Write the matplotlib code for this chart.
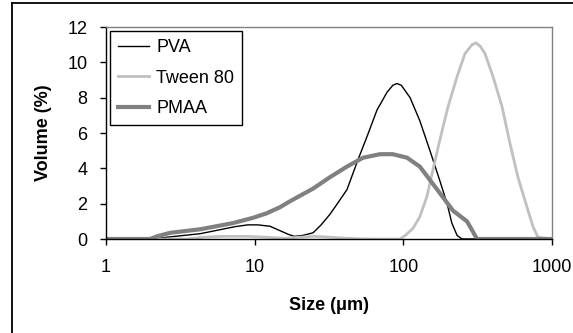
import matplotlib
matplotlib.use("Agg")
import matplotlib.pyplot as plt
from matplotlib.lines import Line2D

plt.rcParams['font.family'] = ['Liberation Sans', 'DejaVu Sans']

# Size (um) / Volume (%)
pva_x = [1, 2.0, 2.7, 4.3, 7.4, 9.0, 10.5, 12.7, 15.0, 17.0, 18.5, 21.0, 24.7, 28.0, 32.1, 36.0,
         41.8, 49.6, 57.0, 66.5, 77.6, 85.0, 90.6, 97.0, 111, 129, 151, 176, 197, 212, 230, 248, 1000]
pva_y = [0, 0, 0.12, 0.3, 0.7, 0.8, 0.8, 0.72, 0.45, 0.25, 0.15, 0.2, 0.35, 0.8, 1.4, 2.0,
         2.8, 4.5, 5.8, 7.3, 8.3, 8.7, 8.8, 8.7, 8.0, 6.7, 5.0, 3.3, 2.0, 0.9, 0.2, 0, 0]

tween_x = [1, 3.5, 4.5, 6.0, 9.0, 12.0, 16.0, 20.0, 25.0, 30.0, 38.0, 48.0, 60.0, 95, 103, 116, 129,
           144, 158, 176, 200, 230, 260, 290, 308, 330, 354, 401, 461, 522, 590, 679, 745, 805, 1000]
tween_y = [0, 0, 0.1, 0.15, 0.15, 0.1, 0.04, 0.1, 0.15, 0.12, 0.06, 0.02, 0, 0, 0.2, 0.6, 1.25,
           2.4, 3.9, 5.6, 7.5, 9.2, 10.5, 11.0, 11.1, 10.9, 10.5, 9.2, 7.5, 5.4, 3.5, 1.8, 0.7, 0.1, 0]

pmaa_x = [1, 1.98, 2.2, 2.7, 4.3, 7.15, 9.75, 12.0, 14.8, 17.0, 20.2, 24.7, 32.1, 41.8, 53.5, 69.6,
          85, 106, 129, 176, 216, 268, 290, 313, 1000]
pmaa_y = [0, 0, 0.15, 0.35, 0.55, 0.9, 1.2, 1.45, 1.8, 2.1, 2.45, 2.85, 3.5, 4.1, 4.6, 4.8,
          4.8, 4.6, 4.1, 2.6, 1.6, 1.0, 0.5, 0, 0]

y_ticks = [0, 2, 4, 6, 8, 10, 12]
x_ticks = [1, 10, 100, 1000]
x_ticklabels = ['1', '10', '100', '1000']

W, H = 573, 333
fig = plt.figure(figsize=(W / 100, H / 100), dpi=100)
fig.patch.set_facecolor('white')

# outer frame (left and top visible)
fig.add_artist(Line2D([12 / W, 12 / W], [0, 1 - 3 / H], color='black', lw=1.3, transform=fig.transFigure))
fig.add_artist(Line2D([12 / W, 1], [1 - 3 / H, 1 - 3 / H], color='black', lw=1.3, transform=fig.transFigure))

AX_L, AX_R, AX_T, AX_B = 106, 552, 27, 239
ax = fig.add_axes([AX_L / W, (H - AX_B) / H, (AX_R - AX_L) / W, (AX_B - AX_T) / H])
ax.plot(pva_x, pva_y, color='black', lw=1.0, label='PVA')
ax.plot(tween_x, tween_y, color='#c0c0c0', lw=2.0, label='Tween 80')
ax.plot(pmaa_x, pmaa_y, color='#808080', lw=3.0, label='PMAA')

ax.set_xscale('log')
ax.set_xlim(1, 1000)
ax.set_ylim(0, 12)
ax.set_xticks(x_ticks)
ax.set_xticklabels(x_ticklabels)
ax.set_yticks(y_ticks)
ax.minorticks_off()
ax.tick_params(axis='both', direction='out', length=4.3, width=1, labelsize=13, colors='black')
ax.tick_params(axis='x', pad=10)
ax.tick_params(axis='y', pad=9)

for s in ['top', 'right']:
    ax.spines[s].set_color('#808080')
    ax.spines[s].set_linewidth(1.0)
for s in ['left', 'bottom']:
    ax.spines[s].set_color('black')
    ax.spines[s].set_linewidth(1.0)

ax.set_xlabel('Size (\u03bcm)', fontsize=13, fontweight='bold', va='center')
ax.xaxis.set_label_coords(0.5, (AX_B - 305) / (AX_B - AX_T))
ax.set_ylabel('Volume (%)', fontsize=13, fontweight='bold', va='center')
ax.yaxis.set_label_coords((44 - AX_L) / (AX_R - AX_L), 0.5)

leg = ax.legend(loc='upper left', bbox_to_anchor=(4 / 446, 1 - 4 / 212), fontsize=13,
                frameon=True, fancybox=False, edgecolor='black', framealpha=1,
                handlelength=1.7, handletextpad=0.4, borderpad=0.45, labelspacing=0.75,
                borderaxespad=0)
leg.get_frame().set_linewidth(1.0)

fig.savefig('out.png', dpi=100, facecolor='white')
